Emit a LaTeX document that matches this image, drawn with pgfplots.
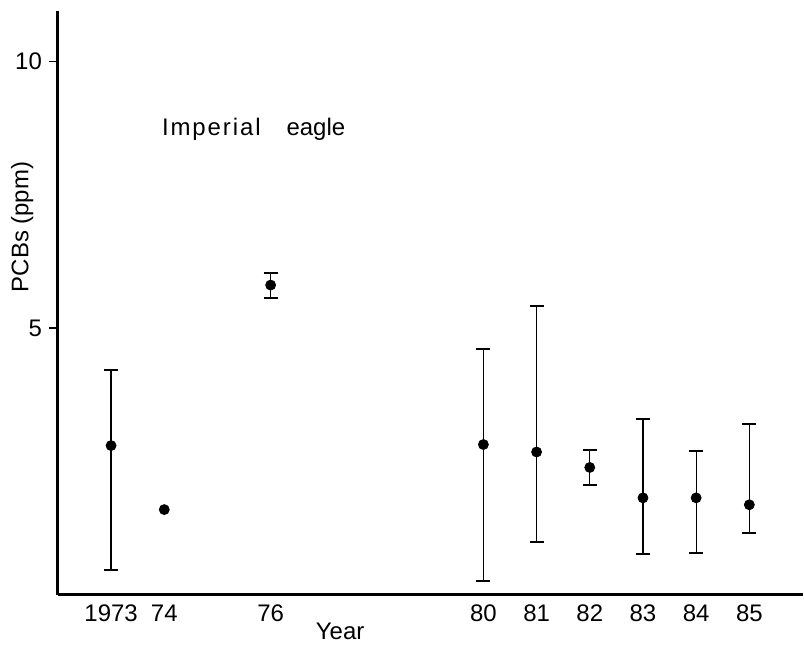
\documentclass[border=0pt]{standalone}
\usepackage{fontspec}
\setmainfont{Liberation Sans}
\usepackage{pgfplots}
\usepackage{pgfplotstable}
\pgfplotsset{compat=1.18}
\usetikzlibrary{calc}
\pgfplotstableread{
x     y     ep    em
1973  2.80  1.42  2.34
1976  5.81  0.22  0.25
1980  2.82  1.79  2.55
1981  2.68  2.74  1.68
1982  2.39  0.33  0.32
1983  1.82  1.48  1.05
1984  1.82  0.88  1.03
1985  1.69  1.51  0.52
}\witherr
\pgfplotstableread{
x     y
1974  1.60
}\noerr
\begin{document}
\begin{tikzpicture}
\begin{axis}[
  scale only axis, width=373pt, height=292.5pt,
  xmin=1972, xmax=1986, ymin=0, ymax=10.95,
  axis x line=bottom, axis y line=left,
  axis line style={line width=1.5pt,-},
  xtick={1973,1974,1976,1980,1981,1982,1983,1984,1985},
  xticklabels={1973,74,76,80,81,82,83,84,85},
  ytick={5,10},
  x tick style={draw=none},
  y tick style={line width=0.8pt,black},
  tick align=outside, major tick length=4.5pt,
  tick label style={font=\fontsize{12}{14}\selectfont},
  xticklabel style={yshift=3pt},
  /pgf/number format/assume math mode=true,
  xlabel={Year}, ylabel={PCBs (ppm)},
  every axis x label/.style={at={(axis description cs:0.379,-0.063)},anchor=center,font=\fontsize{12}{14}\selectfont},
  every axis y label/.style={at={(axis description cs:-0.048,0.63)},rotate=90,anchor=center,font=\fontsize{12}{14}\selectfont},
  clip=false,
]
\addplot[black, only marks, mark=*, mark size=2.5pt,
  error bars/.cd, y dir=both, y explicit,
  error bar style={line width=0.6pt},
  error mark options={rotate=90, mark size=3.5pt, line width=1pt}]
  table[x=x, y=y, y error plus=ep, y error minus=em] {\witherr};
\addplot[black, only marks, mark=*, mark size=2.5pt] table[x=x,y=y] {\noerr};
\node[anchor=west, inner sep=0pt, font=\fontsize{12}{14}\selectfont] at (axis cs:1973.95,8.73) {{\addfontfeature{LetterSpace=8}Imperial}\hspace{13pt}eagle};
\coordinate (O) at (rel axis cs:0,0);
\coordinate (T) at (rel axis cs:1,1);
\end{axis}
\path ($(O)+(-29pt,-25.5pt)$) rectangle ($(T)+(0,5.5pt)$);
\end{tikzpicture}
\end{document}
